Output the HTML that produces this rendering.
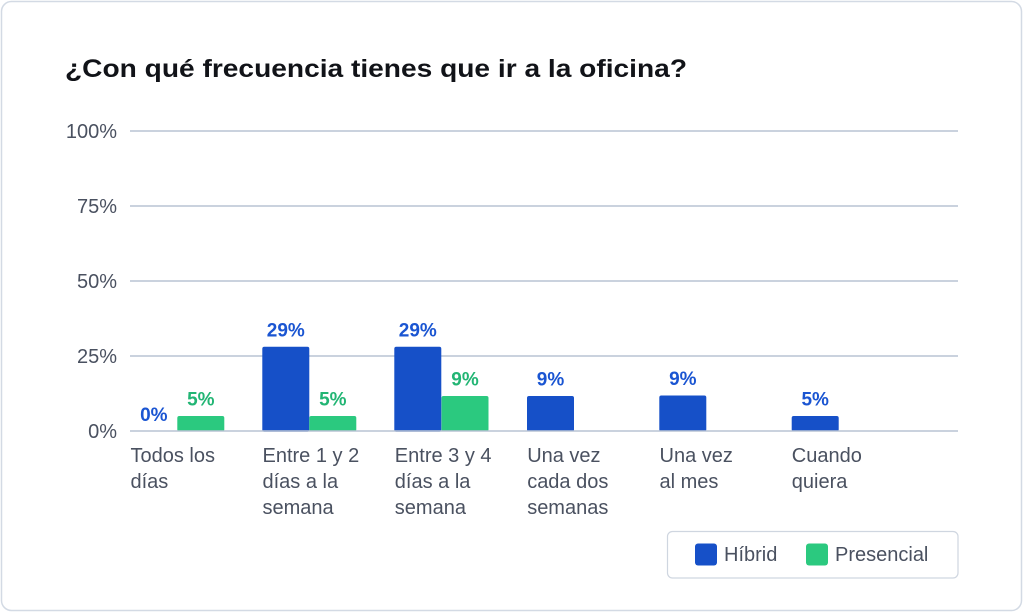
<!DOCTYPE html>
<html><head><meta charset="utf-8"><style>
html,body{margin:0;padding:0;background:#fff;}
svg{display:block;font-family:"Liberation Sans",sans-serif;}
</style></head><body>
<svg width="1024" height="612" viewBox="0 0 1024 612" xmlns="http://www.w3.org/2000/svg">
<rect x="1.5" y="1.5" width="1020" height="609" rx="10" fill="#fff" stroke="#d3dae4" stroke-width="1.5"/>
<text x="65" y="77" font-size="25" font-weight="bold" fill="#111318" textLength="622" lengthAdjust="spacingAndGlyphs">¿Con qué frecuencia tienes que ir a la oficina?</text>
<g stroke="#b9c3d3" stroke-width="1.5">
<line x1="130" y1="131" x2="958" y2="131"/>
<line x1="130" y1="206" x2="958" y2="206"/>
<line x1="130" y1="281" x2="958" y2="281"/>
<line x1="130" y1="356" x2="958" y2="356"/>
</g>
<g font-size="20" fill="#4a5160" text-anchor="end">
<text x="117" y="138">100%</text>
<text x="117" y="213">75%</text>
<text x="117" y="288">50%</text>
<text x="117" y="363">25%</text>
<text x="117" y="438">0%</text>
</g>
<g fill="#1650c8">
<rect x="262.3" y="346.7" width="47" height="85" rx="2"/>
<rect x="394.3" y="346.7" width="47" height="85" rx="2"/>
<rect x="527" y="396" width="47" height="35.5" rx="2"/>
<rect x="659.3" y="395.5" width="47" height="36" rx="2"/>
<rect x="791.7" y="416" width="47" height="15.5" rx="2"/>
</g>
<g fill="#2bc97f">
<rect x="177.3" y="416" width="47" height="15.5" rx="2"/>
<rect x="309.3" y="416" width="47" height="15.5" rx="2"/>
<rect x="441.5" y="396" width="47" height="35.5" rx="2"/>
</g>
<line x1="130" y1="431" x2="958" y2="431" stroke="#b9c3d3" stroke-width="1.5"/>
<g font-size="19" font-weight="bold" text-anchor="middle">
<text x="153.8" y="421" fill="#1a55d2">0%</text>
<text x="200.8" y="405.5" fill="#22b574">5%</text>
<text x="285.8" y="336.5" fill="#1a55d2">29%</text>
<text x="332.8" y="405.5" fill="#22b574">5%</text>
<text x="417.8" y="336.5" fill="#1a55d2">29%</text>
<text x="465" y="385.5" fill="#22b574">9%</text>
<text x="550.5" y="385.5" fill="#1a55d2">9%</text>
<text x="682.8" y="385" fill="#1a55d2">9%</text>
<text x="815.2" y="405.5" fill="#1a55d2">5%</text>
</g>
<g font-size="20" fill="#4a5160">
<text x="130.5" y="462">Todos los</text>
<text x="130.5" y="488">días</text>
<text x="262.5" y="462">Entre 1 y 2</text>
<text x="262.5" y="488">días a la</text>
<text x="262.5" y="514">semana</text>
<text x="394.8" y="462">Entre 3 y 4</text>
<text x="394.8" y="488">días a la</text>
<text x="394.8" y="514">semana</text>
<text x="527.2" y="462">Una vez</text>
<text x="527.2" y="488">cada dos</text>
<text x="527.2" y="514">semanas</text>
<text x="659.5" y="462">Una vez</text>
<text x="659.5" y="488">al mes</text>
<text x="791.8" y="462">Cuando</text>
<text x="791.8" y="488">quiera</text>
</g>
<rect x="667.5" y="531.5" width="290.5" height="46.5" rx="5" fill="#fff" stroke="#cfd6e0" stroke-width="1.2"/>
<rect x="695" y="543.5" width="22" height="22" rx="3" fill="#1650c8"/>
<text x="724" y="561" font-size="20" fill="#4a5160">Híbrid</text>
<rect x="806" y="543.5" width="22" height="22" rx="3" fill="#2bc97f"/>
<text x="835" y="561" font-size="20" fill="#4a5160">Presencial</text>
</svg>
</body></html>
